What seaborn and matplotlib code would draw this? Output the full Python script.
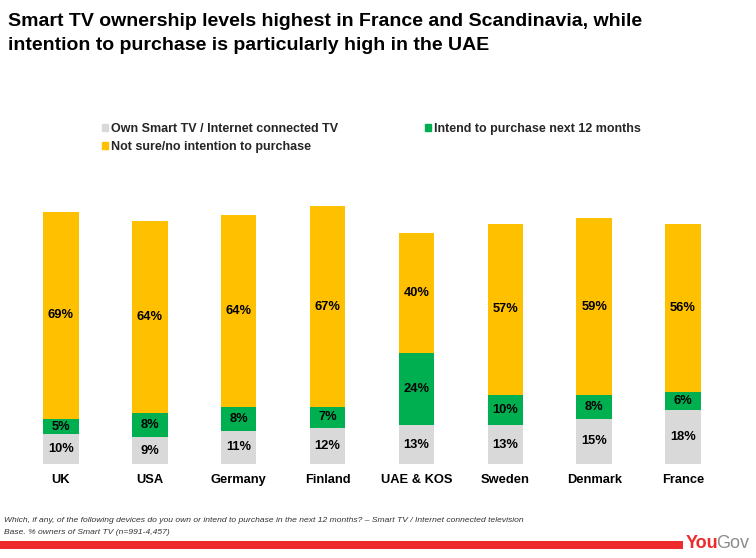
import matplotlib
matplotlib.use("Agg")
import matplotlib.pyplot as plt
import seaborn as sns
import pandas as pd
from matplotlib.patches import Patch, Rectangle

countries = ["UK", "USA", "Germany", "Finland", "UAE & KOS", "Sweden", "Denmark", "France"]
own = [10, 9, 11, 12, 13, 13, 15, 18]
intend = [5, 8, 8, 7, 24, 10, 8, 6]
not_sure = [69, 64, 64, 67, 40, 57, 59, 56]
series_names = ["Own Smart TV / Internet connected TV", "Intend to purchase next 12 months",
                "Not sure/no intention to purchase"]
colors = ["#D9D9D9", "#00B050", "#FFC000"]

sns.set_theme(style="white")
plt.rcParams['font.family'] = ['Liberation Sans', 'DejaVu Sans']

df = pd.DataFrame({"country": countries, "own": own, "intend": intend, "not_sure": not_sure})
df["c2"] = df["own"] + df["intend"]
df["c3"] = df["c2"] + df["not_sure"]

fig = plt.figure(figsize=(7.56, 5.58), dpi=100)
ax = fig.add_axes([16.5 / 756, (558 - 464) / 558, 711 / 756, 300 / 558])

for col, c in [("c3", colors[2]), ("c2", colors[1]), ("own", colors[0])]:
    sns.barplot(data=df, x="country", y=col, order=countries, color=c, width=0.4,
                saturation=1, ax=ax, linewidth=0, errorbar=None)

for i, row in df.iterrows():
    ax.text(i, row["own"] / 2, f"{row['own']}%", ha="center", va="center",
            fontsize=9.3, fontweight="bold", color="black")
    ax.text(i, row["own"] + row["intend"] / 2, f"{row['intend']}%", ha="center", va="center",
            fontsize=9.3, fontweight="bold", color="black")
    ax.text(i, row["c2"] + row["not_sure"] / 2, f"{row['not_sure']}%", ha="center", va="center",
            fontsize=9.3, fontweight="bold", color="black")

ax.set_xlim(-0.5, 7.5)
ax.set_ylim(0, 100)
ax.set_xlabel("")
ax.set_ylabel("")
ax.set_yticks([])
ax.tick_params(axis="x", length=0, pad=7)
for lab in ax.get_xticklabels():
    lab.set_fontweight("bold")
    lab.set_fontsize(9.3)
    lab.set_color("black")
sns.despine(ax=ax, left=True, bottom=True)

fig.text(8 / 756, 1 - 22 / 558,
         "Smart TV ownership levels highest in France and Scandinavia, while",
         ha="left", va="center", fontsize=14, fontweight="bold", color="black")
fig.text(8 / 756, 1 - 46 / 558,
         "intention to purchase is particularly high in the UAE",
         ha="left", va="center", fontsize=14, fontweight="bold", color="black")

handles = [Patch(color=colors[0]), Patch(color=colors[2]), Patch(color=colors[1])]
labels = [series_names[0], series_names[2], series_names[1]]
leg = fig.legend(handles, labels, loc="upper left", bbox_to_anchor=(102 / 756, 1 - 123 / 558),
                 ncol=2, frameon=False, prop={"weight": "bold", "size": 9},
                 handlelength=0.5, handleheight=0.5, handletextpad=0.25,
                 columnspacing=6.9, labelspacing=0.45, borderaxespad=0, borderpad=0)

fig.text(4 / 756, 1 - 521 / 558,
         "Which, if any, of the following devices do you own or intend to purchase in the next 12 months? \u2013 Smart TV / Internet connected television",
         ha="left", va="center", fontsize=6.1, style="italic", color="#333333")
fig.text(4 / 756, 1 - 532 / 558, "Base. % owners of Smart TV (n=991-4,457)",
         ha="left", va="center", fontsize=6.1, style="italic", color="#333333")

fig.patches.append(Rectangle((0, 1 - 549 / 558), 683 / 756, 8 / 558, transform=fig.transFigure,
                             color="#EE2A2C", linewidth=0))
fig.text(686 / 756, 1 - 544 / 558, "You", ha="left", va="center", fontsize=13,
         fontweight="bold", color="#EE2A2C")
fig.text(716 / 756, 1 - 544 / 558, "Gov", ha="left", va="center", fontsize=13,
         color="#8C8C8C")

fig.savefig("out.png", dpi=100)
